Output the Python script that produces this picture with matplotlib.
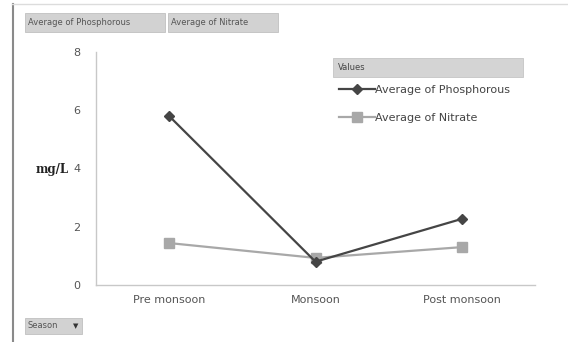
import matplotlib.pyplot as plt
from matplotlib.patches import Rectangle
from matplotlib.lines import Line2D

seasons = ["Pre monsoon", "Monsoon", "Post monsoon"]
phosphorous = [5.8, 0.8, 2.27]
nitrate = [1.44, 0.93, 1.3]
y_ticks = [0, 2, 4, 6, 8]

W, H = 568, 342
fig = plt.figure(figsize=(W / 100, H / 100), dpi=100)
fig.patch.set_facecolor("white")


def px(x, y, w, h):
    # pixel box (top-left origin) -> figure fraction
    return [x / W, 1 - (y + h) / H, w / W, h / H]


# outer frame lines
fig.add_artist(Line2D([12.5 / W, 12.5 / W], [0, 1 - 4 / H], color="#8a8a8a", lw=1.5))
fig.add_artist(Line2D([12 / W, 1.0], [1 - 4 / H, 1 - 4 / H], color="#dcdcdc", lw=1))

ax = fig.add_axes(px(96, 52, 439, 233))
x = list(range(len(seasons)))
ax.plot(x, phosphorous, color="#454545", lw=1.6, marker="D", ms=5,
        label="Average of Phosphorous", zorder=3)
ax.plot(x, nitrate, color="#a8a8a8", lw=1.6, marker="s", ms=6.5,
        label="Average of Nitrate", zorder=2)

ax.set_xlim(-0.5, 2.5)
ax.set_ylim(0, 8)
ax.set_yticks(y_ticks)
ax.set_xticks(x)
ax.set_xticklabels(seasons)
ax.tick_params(length=0, colors="#555555", labelsize=8)
ax.tick_params(axis="y", pad=11)
ax.tick_params(axis="x", pad=7)
for s in ["top", "right"]:
    ax.spines[s].set_visible(False)
for s in ["left", "bottom"]:
    ax.spines[s].set_color("#c8c8c8")
    ax.spines[s].set_linewidth(1)

fig.text(52 / W, 1 - 169 / H, "mg/L", fontsize=8.5, fontweight="bold",
         family="DejaVu Serif", ha="center", va="center", color="#222222")

# legend box
fig.add_artist(Rectangle((333 / W, 1 - 77 / H), 190 / W, 19 / H,
                         transform=fig.transFigure, facecolor="#d4d4d4",
                         edgecolor="#c4c4c4", lw=0.6))
fig.text(338 / W, 1 - 68 / H, "Values", fontsize=6, color="#444444", va="center")
leg = ax.legend(loc="upper left", frameon=False, fontsize=8,
                handlelength=3.2, handletextpad=0.0, labelspacing=1.6,
                borderaxespad=0, borderpad=0)
for t in leg.get_texts():
    t.set_color("#444444")
leg.set_bbox_to_anchor((339 / W, 1 - 85 / H), transform=fig.transFigure)

# field buttons
buttons = [(25, 13, 140, 19, "Average of Phosphorous"),
           (168, 13, 110, 19, "Average of Nitrate")]
for bx, by, bw, bh, label in buttons:
    fig.add_artist(Rectangle((bx / W, 1 - (by + bh) / H), bw / W, bh / H,
                             transform=fig.transFigure, facecolor="#d2d2d2",
                             edgecolor="#c0c0c0", lw=0.6))
    fig.text((bx + 3) / W, 1 - (by + bh / 2) / H, label, fontsize=6,
             color="#555555", va="center")

fig.add_artist(Rectangle((25 / W, 1 - 334 / H), 57 / W, 16 / H,
                         transform=fig.transFigure, facecolor="#d2d2d2",
                         edgecolor="#c0c0c0", lw=0.6))
fig.text(28 / W, 1 - 326 / H, "Season", fontsize=6, color="#555555", va="center")
fig.text(76 / W, 1 - 326 / H, "\u25bc", fontsize=5, color="#333333",
         va="center", ha="center")

fig.savefig("out.png", dpi=100)
